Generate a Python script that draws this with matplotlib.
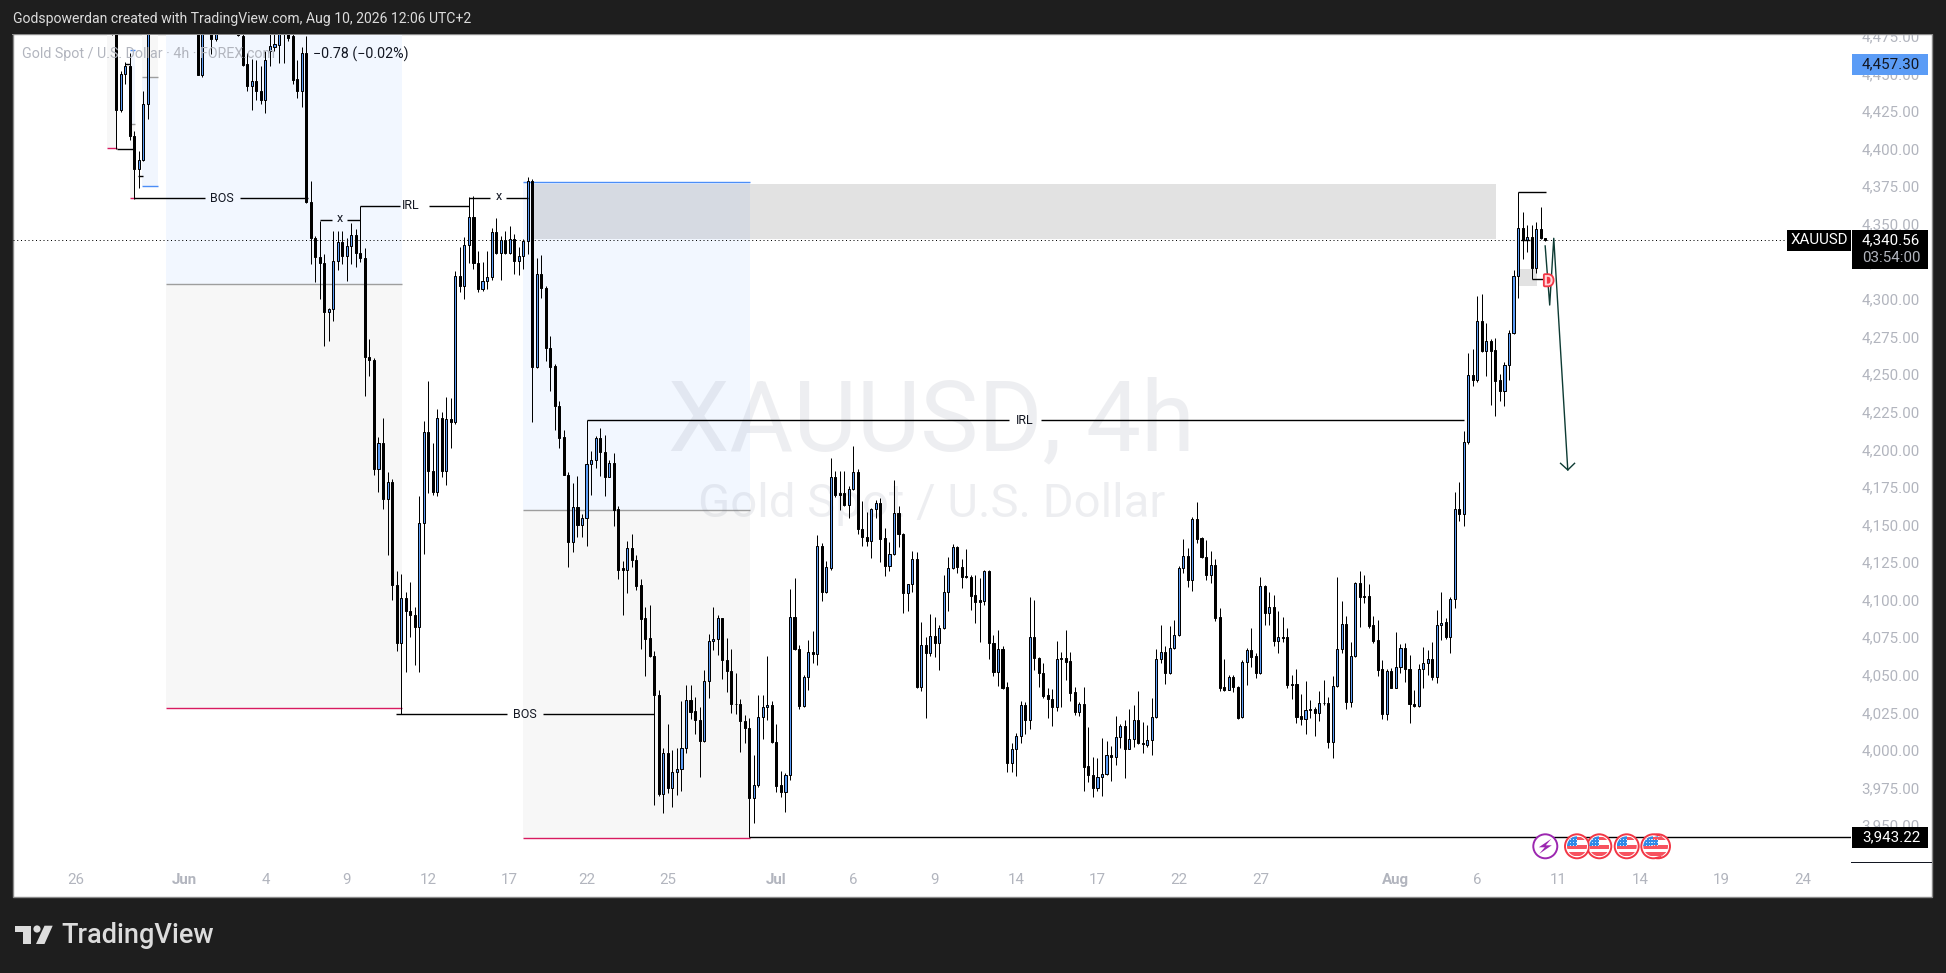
import numpy as np
import matplotlib
matplotlib.use("Agg")
import matplotlib.pyplot as plt
from matplotlib.patches import Rectangle, Circle, Polygon
from matplotlib.transforms import IdentityTransform, ScaledTranslation
import matplotlib.patheffects as pe

plt.rcParams['font.family'] = ['Roboto', 'DejaVu Sans']
nan = np.nan  # candles that lie wholly above the visible price range

opens = [
 4495,4490,4427,4451,4456,4410,4388,4394,4431,nan,
 nan,nan,nan,nan,nan,nan,nan,nan,nan,4495,
 4450,nan,4490,4474,nan,nan,nan,nan,4490,4476.5,
 4457.6,4443,4446,4439.5,4434,4466,4469,4470.5,4490,4488,
 4476,4447.7,4440,4465,4365.6,4341.7,4329,4325.5,4292.5,4294.5,
 4326.8,4339,4330,4336.4,4343.7,4332,4328.8,4262.9,4260.7,4188.2,
 4205.3,4168.3,4179.3,4111.3,4072.3,4102.2,4094,4091.3,4083.3,4152,
 4212.6,4186.7,4173.1,4221.9,4186.7,4221.2,4219.2,4316.9,4310,4337.3,
 4355.9,4325,4308,4313.5,4316.2,4345.7,4331.7,4340.6,4331.7,4341,
 4326.8,4329.7,4340,4379.8,4256.3,4317.8,4308.4,4269,4257,4230.4,
 4209.3,4184.4,4139.9,4162.7,4151,4155.4,4191.3,4194,4208.6,4199.7,
 4183.1,4192,4161.4,4122.1,4121.3,4135.4,4128,4111,4089,4075.6,
 4064,4038,3972,3999.1,3975.8,3986.5,3988.5,4002.4,4034.4,4027.3,
 4021,4007.5,4047,4073.6,4074.9,4088.9,4061.4,4054.1,4032,4032,
 4020.8,4016.2,3969.2,3978,4023.5,4029.7,4031,4006.9,3978,3973.6,
 3984.5,4089.6,4068.3,4030.8,4050.1,4066.3,4065.4,4136.8,4106.6,4122.1,
 4182.7,4172,4172,4164.3,4174.8,4186,4148,4143.2,4140.6,4161.4,
 4165.4,4142.1,4123.9,4131.5,4158.7,4144.8,4106,4111.5,4128.1,4043.4,
 4070.9,4065.6,4076.9,4072.7,4082.2,4106.2,4122.2,4136.1,4123.3,4117,
 4116.6,4104.4,4101,4100.6,4120.4,4072.3,4053.4,4068.3,4043,3992.9,
 4001.8,4010.6,4031,4021.3,4076.3,4062.7,4052.8,4037.7,4035.2,4030.1,
 4061.8,4062.3,4060.5,4040.1,4026.8,4031.9,3990.7,3984.7,3975.8,3983.1,
 3985.1,3997.8,3996.9,4009.7,4017,4002.2,4008.4,4021,4006,4004.6,
 4007.8,4023,4061.6,4066.3,4052.8,4069,4077.6,4122.1,4130.6,4114.6,
 4154.7,4142,4129.9,4117.9,4124.1,4089.5,4043,4041.2,4049.6,4043.4,
 4023.1,4059.6,4067.6,4063.8,4052.8,4110.2,4092.7,4096.2,4074,4076.3,
 4076.3,4045,4045,4023.7,4022.2,4028.1,4028.4,4025.7,4032.4,4032.4,
 4006.6,4044.1,4068.3,4085.1,4033.5,4063.6,4112.2,4103.5,4103.5,4084.2,
 4074.3,4055,4025.3,4053.6,4042.8,4056.3,4068.9,4055,4031.7,4030.4,
 4055,4059,4061.6,4049.6,4084.2,4086.2,4076.7,4101.5,4161.4,4158,
 4206,4250.5,4247.4,4286.4,4266.9,4273.1,4267.2,4247.4,4240.3,4257.2,
 4278.5,4316.4,4348.3,4340.5,4342.3,4322.1,4347.6,4341.6]

highs = [
 4500,4495,4453,4459,4465,4413,4400,4440,4500,nan,
 nan,nan,nan,nan,nan,nan,nan,nan,nan,4500,
 4500,nan,4495,4495,nan,nan,nan,nan,4495,4485,
 4465,4461,4460,4456,4466,4480,4482,4485,4495,4492,
 4480,4460,4468.7,4476,4380,4343,4353.4,4331,4295,4346.8,
 4346.8,4346.8,4342,4351.7,4347.9,4363.4,4335,4274.7,4262,4209.3,
 4222.1,4186.2,4181.6,4120.1,4118.4,4106.4,4112.8,4096.2,4170.3,4219.9,
 4246.5,4205.5,4228.1,4225.9,4235.9,4235.4,4319.8,4336.2,4342.8,4369,
 4369.6,4333,4326,4333,4348.6,4355.2,4343.5,4346.8,4349.9,4344.6,
 4335.7,4341,4382.3,4381,4328.4,4330.6,4310,4276.7,4258.1,4233.5,
 4214.1,4186,4178.7,4183.3,4158.3,4220.6,4200.4,4210,4215.3,4210.8,
 4194,4198.9,4163.4,4126.8,4140.3,4144.8,4131,4114.8,4096.2,4097.8,
 4067,4041.2,4002.4,4018.6,4001.3,4002.4,4033.9,4044.3,4044.3,4036.4,
 4030.1,4054.5,4078.3,4096.2,4091.1,4089,4075.6,4068.5,4052.8,4035.2,
 4024.6,4022.4,3998,4037.9,4037.9,4063.8,4033.9,4018.6,3987.4,3985.8,
 4108.4,4115.5,4070.9,4051,4074.5,4080.5,4144.3,4138.8,4127,4195.4,
 4187,4187,4187,4177,4203.6,4188.3,4167,4159.4,4162,4167.6,
 4168.8,4148.7,4139.4,4181,4163.7,4145.4,4112,4133.9,4133.2,4086.2,
 4076.3,4091.6,4090,4084.5,4117.7,4129.5,4138.3,4137,4128.1,4134.8,
 4117.7,4117.7,4115.5,4121,4121,4077.8,4081.1,4070.5,4046.8,4006.2,
 4012.4,4034.1,4033.5,4102.9,4101.1,4063,4059,4042.3,4041.9,4074,
 4066.7,4081.1,4066.7,4043,4033.5,4043.4,4016.8,3996.9,3995.8,4009.1,
 4007.3,4004,4023.9,4018.6,4021.3,4028.4,4031.2,4040.6,4020,4017.7,
 4036.1,4068.5,4084.4,4070.5,4084,4087.8,4123.7,4141.4,4135.5,4156,
 4166.3,4142.8,4141,4133.7,4128.4,4095.5,4061.6,4051.2,4051.2,4043.6,
 4061.2,4069.4,4082.2,4065.6,4116.2,4111,4106.2,4104.4,4093.8,4089.6,
 4082.2,4051.2,4055,4038.3,4047.2,4034.6,4030.1,4040.6,4047.9,4036.3,
 4050.5,4116.2,4100.4,4090.4,4073.4,4113.3,4120.4,4117.7,4111.7,4090.4,
 4087.8,4061.2,4055,4055.6,4079.6,4071.8,4072.5,4064.5,4041.2,4058.3,
 4069.6,4067.8,4072.9,4094.4,4106.4,4088.9,4102.9,4172.7,4179.3,4213.5,
 4265.6,4268,4303.3,4304.6,4285.1,4274.7,4275.1,4251.4,4259.2,4280.7,
 4320.6,4372.3,4359,4350.5,4350.5,4352.3,4362.3,4342]

lows = [
 4477,4401,4426,4444,4407,4368,4375,4393,4421,nan,
 nan,nan,nan,nan,nan,nan,nan,nan,nan,4450,
 4449,nan,4464,4473,nan,nan,nan,nan,4476,4456,
 4440,4427,4434,4431,4425,4456,4466,4458,4458,4473,
 4444,4435,4429,4365,4324.6,4312.4,4301.4,4269.9,4273.4,4286.9,
 4320.6,4324.6,4313.5,4324.6,4322.4,4326,4237,4250.3,4184.4,4173.1,
 4161.6,4131.2,4101,4067.4,4025,4053,4076.7,4058.1,4053.4,4131.7,
 4172,4171,4170.5,4183.1,4177.8,4202.2,4218,4306,4301.4,4325,
 4321,4306,4306.9,4308,4314,4331,4314,4331,4331,4318,
 4317.5,4321,4331.3,4219.8,4255.2,4302.2,4260.1,4240.4,4214.2,4202.5,
 4184,4122.8,4133.2,4142.8,4143.2,4137.2,4171.1,4188.9,4183.6,4170.5,
 4183,4150.5,4115,4091.3,4106,4122.8,4107.7,4068.5,4050.8,4063,
 3964.7,3971,3959.6,3973,3963.6,3971.4,3974.3,3999,4022,4012,
 3983.6,4006.9,4035.9,4067.8,4064.5,4048.8,4040.1,4025.7,4025.3,4000.2,
 4005.8,3943.3,3952.9,3977,4008.6,4021.3,4006,3973.6,3970.3,3960.3,
 3981.4,4068,4028.6,4030,4041.2,4059,4057.9,4100.6,4106,4121,
 4169.9,4161,4163.9,4155.5,4174,4145,4137.2,4137.2,4129.2,4155.4,
 4126.1,4117,4120.6,4131,4136.6,4092.7,4094,4106.6,4042.3,4040.8,
 4022.4,4064,4063,4054.5,4081.6,4093.8,4121.5,4119.3,4109.3,4116,
 4094.4,4086,4073.4,4097.8,4061.6,4050.8,4044.1,4042,3986.9,3986.9,
 3984.3,4006.2,4012,4015.3,4054.5,4043.4,4036.1,4022.8,4017.3,4027.5,
 4030.1,4047.9,4034.1,4024.6,4024.2,3974.3,3980.3,3969.8,3974.3,3970.9,
 3984.7,3981,3991.3,4002.9,3982.9,4001.8,4003.1,4005,3999.1,4003.5,
 3998.2,4022.4,4059.4,4045,4051.9,4068.3,4077,4119.3,4110,4107.3,
 4138.8,4128.8,4114.4,4112.6,4087.3,4040.8,4040.6,4041,4040.1,4022,
 4022.4,4044.5,4056.3,4049,4052,4084.5,4084.5,4070.5,4066,4073.4,
 4042.8,4035.5,4019.5,4017.7,4012,4022.4,4010.6,4020.6,4031,4002.9,
 3996.2,4043,4065.6,4028.8,4030.1,4063,4083.3,4099.3,4082.7,4072.7,
 4050.5,4021.7,4021.3,4042.4,4042.4,4052.8,4046.8,4019.5,4030,4030,
 4042.8,4051.2,4047.9,4046.1,4074.5,4075.1,4066,4096,4153.6,4150.5,
 4204.6,4243.4,4246.3,4266.3,4250.1,4230.8,4223.5,4233.7,4230.4,4247.4,
 4278,4302.2,4327.9,4332.8,4314.4,4318.4,4341,4340]

closes = [
 4485,4427,4451,4456,4410,4388,4393.6,4431,4490,nan,
 nan,nan,nan,nan,nan,nan,nan,nan,nan,4450.5,
 4495,nan,4474,4490,nan,nan,nan,nan,4477,4457,
 4443,4446,4439.5,4434,4460,4469.5,4471,4480,4482,4474.7,
 4447,4439.5,4465,4365.6,4341.7,4329,4325.5,4292.5,4294.5,4326.8,
 4339,4330,4336.4,4343.7,4332,4328.8,4262.9,4260.7,4188.2,4205.3,
 4168.3,4179.3,4111.3,4072.3,4102.2,4094,4091.3,4083.3,4152,4212.6,
 4186.7,4173.1,4221.9,4186.7,4221.2,4219.2,4316.9,4310,4337.3,4355.9,
 4325,4308,4313.5,4316.2,4345.7,4331.7,4340.6,4331.7,4341,4326.8,
 4329.7,4340,4379.8,4256.3,4317.8,4308.4,4269,4256.3,4230.4,4209.1,
 4184.4,4139.9,4162.7,4151,4155.4,4191.3,4194,4208.6,4199.7,4183.1,
 4192,4161,4121.3,4121.3,4135.4,4127.9,4110.6,4088.4,4075.2,4063.8,
 4037.9,3972,3999.1,3975.8,3986.5,3988.5,4002.4,4034.4,4026.8,4021,
 4007.5,4047,4073.6,4074.9,4088.9,4061.4,4054.1,4031.7,4031.7,4020.8,
 4016.2,3969.2,3978,4023.5,4029.7,4031,4006.9,3977.4,3973.6,3984.5,
 4089.6,4068.3,4030.8,4050.1,4066.3,4065.4,4136.8,4106.6,4122.8,4182.7,
 4171,4171,4164.3,4174.8,4186,4148,4143.2,4140.6,4161.4,4165.4,
 4141.7,4123.9,4131.5,4158.7,4144.8,4106,4111.5,4128.1,4043.4,4070.9,
 4065.6,4076.9,4072.7,4082.2,4106.2,4122.2,4136.1,4123.3,4116.6,4116.6,
 4104,4100,4100,4120.4,4072.3,4053.4,4068.3,4042.8,3992.9,4001.8,
 4010.6,4031,4021.3,4076.3,4062.7,4052.8,4037.2,4035,4030.1,4061.8,
 4062.3,4060.1,4039,4026.8,4031.9,3990.2,3984.7,3975.8,3983.1,3985.4,
 3997.8,3996.9,4009.7,4017,4002.2,4008.4,4021,4005.7,4005.5,4007.8,
 4023,4061.6,4066.3,4052.8,4069,4077.6,4122.1,4130.6,4114.6,4154.7,
 4141.9,4129.9,4117.9,4124.1,4089.3,4042.3,4041.2,4049.6,4043.4,4022.4,
 4059.6,4067.6,4063.4,4052.8,4110.2,4092.7,4096.2,4074,4076.3,4075.8,
 4044.6,4044.6,4023.5,4022.2,4027.7,4028.6,4025.7,4032.8,4032.8,4006.6,
 4044.1,4068.3,4084.9,4033.5,4063.6,4112.2,4102.9,4102.9,4084,4074,
 4054.5,4025.3,4053.6,4042.8,4056.3,4068.9,4055,4031.7,4030.4,4055,
 4059,4061.6,4049.6,4084.2,4086,4076.7,4101.5,4161.4,4158,4206,
 4250.5,4247.4,4286.4,4266.9,4273.1,4266.9,4247,4240.3,4257.2,4278.5,
 4316.4,4348.3,4340.5,4342.3,4322.1,4347.6,4341.6,4340.56]

price_ticks = [3950,3975,4000,4025,4050,4075,4100,4125,4150,4175,4200,4225,4250,4275,
               4300,4325,4350,4375,4400,4425,4450,4475]
date_tick_bars = [-8,16,34,52,70,88,105,123,147,164,182,200,218,236,254,284,302,320,338,356,374]
date_tick_labels = ['26','Jun','4','9','12','17','22','25','Jul','6','9','14','17','22','27',
                    'Aug','6','11','14','19','24']

# position-tool zones: bar from, bar to, price from, price to, colour
zones = [(-1,1.1,4401.6,4500,'#f7f7f7'),
         (4,5.1,4417.7,4466.9,'#f1f6fe'), (4,5.1,4368.3,4417.7,'#f7f7f7'),
         (6.8,10.2,4376.3,4448.8,'#f1f6fe'), (6.8,10.2,4448.8,4500,'#f7f7f7'),
         (12,64.1,4311.3,4500,'#f2f7ff'), (12,64.1,4029,4311.3,'#f7f7f7'),
         (91,141.2,4160.8,4379,'#f2f7ff'), (91,141.2,3942.6,4160.8,'#f7f7f7')]
zone_lines = [(-1,1.1,4401.6,'#d81b60'),(4,5.1,4466.9,'#4c8df6'),(4,5.1,4417.7,'#9e9e9e'),(4,5.1,4368.3,'#d81b60'),
              (6.8,10.2,4376.3,'#4c8df6'),(6.8,10.2,4448.8,'#9e9e9e'),
              (12,64.1,4311.3,'#9e9e9e'),(12,64.1,4029,'#d81b60'),
              (91,141.2,4379,'#4c8df6'),(91,141.2,4160.8,'#9e9e9e'),(91,141.2,3942.6,'#d81b60')]
grey_boxes = [(93.2,306.1,4341,4377.8),(310.9,315.1,4310,4321.5)]
level_lines = [(1.1,5,4401),(3,4,4457.9),(5.9,7,4383),
               (5,20.6,4368.3),(28.4,43.5,4368.3),
               (46.1,48.8,4353.6),(52.1,55,4353.6),
               (55,63.8,4363.4),(70.2,79.1,4363.4),
               (79,83.7,4368.7),(87.2,92,4368.7),
               (105,198.4,4220.6),(205.5,299.1,4220.6),
               (62.9,87.5,4025),(95.3,120,4025),
               (141,384.6,3943.22),(311,317.1,4372.3),(311.7,313.7,4340.5),(314,316.5,4314.4)]
level_texts = [(24.3,4368.3,'BOS'),(50.4,4354.6,'x'),(66.2,4363.4,'IRL'),(85.6,4369.7,'x'),
               (202,4220.6,'IRL'),(91.4,4025,'BOS')]
path_bars = [317,318,318.9,322]
path_prices = [4336.6,4297.3,4341.7,4187.6]
head_bars = [320.4,322,323.5]
head_prices = [4192,4187.6,4192]
last_price = 4340.56
swing_low = 3943.22
peak_price = 4457.30

W, H = 1946, 973
BG = '#1e1e1e'
AXC = '#b2b5be'
BLUE = '#5b9cf6'
X0, DX = 111.7, 4.522
L, R, T, B = 13, 1851, 34, 862
PX = 0.6652
TICK_FS = 10.9

fig = plt.figure(figsize=(W/100, H/100), dpi=100, facecolor=BG)
ID = IdentityTransform()
def fx(x): return x / W
def fy(y): return 1 - y / H
def dy(y): return H - y

fig.add_artist(Rectangle((L-0.5, dy(897)), 1932-L+0.5, 897-34, transform=ID, fc='white', ec='#8a8a8a', lw=1, zorder=-2))

ax = fig.add_axes([L/W, (H-B)/H, (R-L)/W, (B-T)/H], facecolor='none')
ax.set_xlim((L-X0)/DX, (R-X0)/DX)
ax.set_ylim(last_price - (B-240)*PX, last_price + (240-T)*PX)
for s in ax.spines.values():
    s.set_visible(False)
ax.yaxis.tick_right()
ax.set_yticks(price_ticks)
ax.set_yticklabels([f'{v:,.2f}' for v in price_ticks], fontsize=TICK_FS, color=AXC)
ax.set_xticks(date_tick_bars)
ax.set_xticklabels(date_tick_labels, fontsize=TICK_FS, color=AXC)
ax.tick_params(axis='y', length=0, pad=7.5)
ax.tick_params(axis='x', length=0, pad=8)
for t in ax.get_xticklabels():
    if t.get_text() in ('Jun', 'Jul', 'Aug'):
        t.set_fontweight('bold')
up_shift = ScaledTranslation(0, 2/100, fig.dpi_scale_trans)
for tick in ax.yaxis.get_major_ticks():
    tick.label2.set_transform(tick.label2.get_transform() + up_shift)

for x0, x1, p0, p1, c in zones:
    ax.add_patch(Rectangle((x0, p0), x1-x0, p1-p0, fc=c, ec='none', zorder=1))
for x0, x1, p, c in zone_lines:
    ax.plot([x0, x1], [p, p], color=c, lw=1.0, zorder=1.2, solid_capstyle='butt')
for x0, x1, p0, p1 in grey_boxes:
    ax.add_patch(Rectangle((x0, p0), x1-x0, p1-p0, fc='black', ec='none', alpha=0.115, zorder=1.3))

ax.text((931-X0)/DX, last_price-(423-240)*PX, 'XAUUSD, 4h', fontsize=70.5, color=(0.45,0.48,0.55,0.12),
        ha='center', va='center', zorder=1.5)
ax.text((932-X0)/DX, last_price-(504-240)*PX, 'Gold Spot / U.S. Dollar', fontsize=34, color=(0.45,0.48,0.55,0.12),
        ha='center', va='center', zorder=1.5)

ax.plot([(L-X0)/DX, (1787-X0)/DX], [last_price]*2, color='black', lw=0.72, ls=(0,(1,2.75)), zorder=2)

o, h, l, c = map(lambda a: np.array(a, float), (opens, highs, lows, closes))
idx = np.arange(len(o))
ok = ~np.isnan(o)
vl = ax.vlines(idx[ok], l[ok], h[ok], color='black', lw=0.72, zorder=3)
vl.set_snap(True)
up = c >= o
ax.bar(idx[ok], np.abs(c-o)[ok], bottom=np.minimum(o, c)[ok], width=0.46,
       color=np.where(up, BLUE, 'black')[ok], edgecolor='black', linewidth=0.72, zorder=3.2)

for x0, x1, p in level_lines:
    ax.plot([x0, x1], [p, p], color='black', lw=1.0, zorder=4, solid_capstyle='butt')
for x, p, s in level_texts:
    ax.text(x, p, s, fontsize=9, color='#131722', ha='center', va='center', zorder=4)

ax.plot(path_bars, path_prices, color='#0d3b33', lw=1.0, zorder=4.5)
ax.plot(head_bars, head_prices, color='#0d3b33', lw=1.0, zorder=4.5)
ax.text(316.7, 4313.0, 'D', fontsize=10.5, fontweight='bold', color='#ffd5d9', ha='left', va='center', zorder=5,
        path_effects=[pe.withStroke(linewidth=2.6, foreground='#f23645')])

# price labels on the right scale
tr = ax.get_yaxis_transform()
def axx(px): return (px - L) / (R - L)
def price_box(x0, x1, p_top, p_bot, color):
    ax.add_patch(Rectangle((axx(x0), p_bot), axx(x1)-axx(x0), p_top-p_bot, transform=tr, fc=color, ec='none',
                           clip_on=False, zorder=6))
def price_text(xc, p, s, color):
    ax.text(axx(xc), p, s, transform=tr, fontsize=TICK_FS, color=color, ha='center', va='center', clip_on=False, zorder=7)

price_box(1852, 1928, peak_price+10.3*PX, peak_price-10.3*PX, BLUE)
price_text(1891, peak_price, '4,457.30', '#131722')
price_box(1852, 1928, last_price+10*PX, last_price-29*PX, 'black')
price_text(1891, last_price, '4,340.56', 'white')
price_text(1891, last_price-17.7*PX, '03:54:00', '#b2b5be')
price_box(1787, 1851, last_price+10*PX, last_price-11*PX, 'black')
price_text(1819, last_price, 'XAUUSD', 'white')
price_box(1852, 1928, swing_low+10*PX, swing_low-11*PX, 'black')
price_text(1891, swing_low, '3,943.22', 'white')

fig.add_artist(Rectangle((R, dy(862.5)), 1932-R, 1, transform=ID, fc='#131722', ec='none', zorder=5))

# event icons
def icon_ring(cx, cy, color):
    ring = Circle((cx, dy(cy)), 12, transform=ID, fc='white', ec=color, lw=1.4, zorder=8)
    fig.add_artist(ring)
    return ring
def flag(cx, cy):
    icon_ring(cx, cy, '#f23645')
    inner = Circle((cx, dy(cy)), 10, transform=ID, fc='white', ec='none', zorder=8.1)
    fig.add_artist(inner)
    for x, y, w, hh, col in [(-10,-9,20,3,'#f7525f'),(-10,-1,20,3.5,'#f7525f'),(-10,6,20,3.5,'#f7525f'),
                             (-10,-10,10,10,'#2f8ae8')]:
        r = Rectangle((cx+x, dy(cy+y+hh)), w, hh, transform=ID, fc=col, ec='none', zorder=8.2)
        fig.add_artist(r)
        r.set_clip_path(inner)
    for dx_ in (-7, -4, -1):
        for dy_ in (-7, -4, -1):
            fig.add_artist(Rectangle((cx+dx_, dy(cy+dy_+1)), 1, 1, transform=ID, fc='#cfe4fb', ec='none', zorder=8.3))

for fx_c in [1658, 1653.3, 1626.7, 1599.3, 1577]:
    flag(fx_c, 846.3)
icon_ring(1545.3, 846.3, '#9c27b0')
bx, by = 1545.3, 846.3
fig.add_artist(Polygon([(bx+6,dy(by-7.5)),(bx-6.5,dy(by+1)),(bx-0.5,dy(by+1)),(bx-6,dy(by+7.5)),(bx+6.5,dy(by-1)),(bx+0.5,dy(by-1))],
                       closed=True, transform=ID, fc='#9c27b0', ec='none', zorder=8.3))

# frame and header texts
fig.add_artist(Rectangle((0, dy(33.5)), W, 33.5, transform=ID, fc=BG, ec='none', zorder=9))
fig.add_artist(Rectangle((L-1, dy(34.5)), 1932-L+1, 1, transform=ID, fc='#8a8a8a', ec='none', zorder=9))
fig.text(fx(13), fy(19.5), 'Godspowerdan created with TradingView.com, Aug 10, 2026 12:06 UTC+2',
         fontsize=10.1, color='#dcdcdc', ha='left', va='center', zorder=10)
fig.text(fx(22), fy(54), 'Gold Spot / U.S. Dollar · 4h · FOREX.com', fontsize=10.3, color=AXC,
         ha='left', va='center', zorder=10)
fig.text(fx(313), fy(54), '−0.78 (−0.02%)', fontsize=10.3, color='#131722', ha='left', va='center', zorder=10)

# footer logo
logo = '#dcdcdc'
for pts in [[(15.3,925.7),(31,925.7),(31,944),(22.8,944),(22.8,932),(15.3,932)],
            [(44.5,925.7),(52.7,925.7),(44.5,944),(36,944)]]:
    fig.add_artist(Polygon([(x, dy(y)) for x, y in pts], closed=True, transform=ID, fc=logo, ec='none', zorder=10))
fig.add_artist(Circle((37, dy(929)), 3.6, transform=ID, fc=logo, ec='none', zorder=10))
fig.text(fx(61), fy(935.5), 'TradingView', fontsize=19.5, fontweight='medium', color=logo, ha='left', va='center', zorder=10)

fig.savefig('out.png', dpi=100, facecolor=BG)
